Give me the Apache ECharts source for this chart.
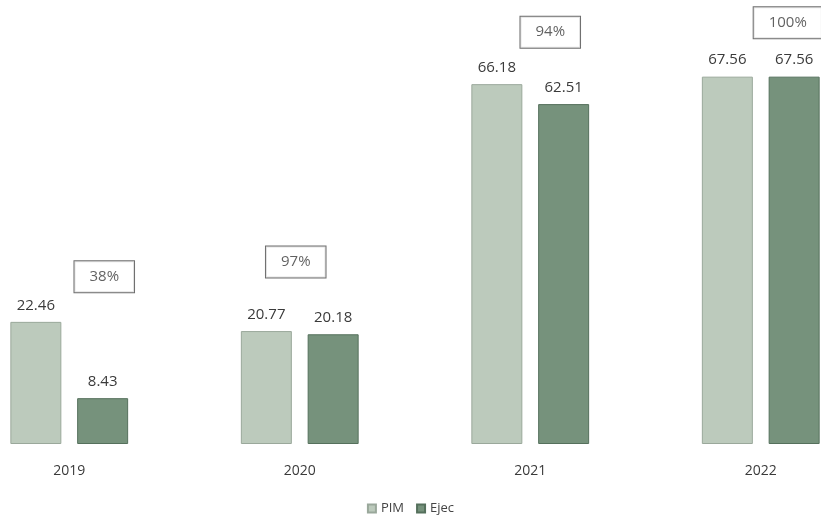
<!DOCTYPE html>
<html>
<head>
<meta charset="utf-8">
<script src="https://cdn.jsdelivr.net/npm/echarts@6/dist/echarts.min.js"></script>
<style>
  html, body { margin: 0; padding: 0; background: #ffffff; }
  #chart { width: 821px; height: 522px; }
</style>
</head>
<body>
<div id="chart"></div>
<script>
// Budget (PIM) vs. execution (Ejec), in millions, per year
const years = ['2019', '2020', '2021', '2022'];
const pim = [22.46, 20.77, 66.18, 67.56];
const ejec = [8.43, 20.18, 62.51, 67.56];
const execPct = ['38%', '97%', '94%', '100%'];

// Where each percentage box sits relative to the top of its taller bar (px)
const boxOffset = [[35, -45], [-4, -69], [20, -52], [27, -54]];

const FONT = 'Open Sans';

const chart = echarts.init(document.getElementById('chart'), null, { renderer: 'canvas' });

const barLabel = {
  show: true,
  position: 'top',
  distance: 9,
  fontFamily: FONT,
  fontSize: 15,
  color: '#3a3a3a'
};

chart.setOption({
  backgroundColor: '#ffffff',
  animation: false,
  // the plot runs past both edges of the canvas, so the outer groups are cut off
  grid: { left: -46, width: 922, top: 9, bottom: 78, outerBoundsMode: 'none', containLabel: false },
  xAxis: {
    type: 'category',
    data: years,
    axisLine: { show: false },
    axisTick: { show: false },
    axisLabel: { fontFamily: FONT, fontSize: 14, color: '#3a3a3a', margin: 20 }
  },
  yAxis: {
    type: 'value',
    min: 0,
    max: 80,
    show: false,
    splitLine: { show: false }
  },
  legend: {
    bottom: 2,
    left: 'center',
    itemWidth: 8,
    itemHeight: 8,
    itemGap: 12,
    icon: 'rect',
    textStyle: { fontFamily: FONT, fontSize: 13, color: '#444' },
    data: ['PIM', 'Ejec']
  },
  series: [
    {
      name: 'PIM',
      type: 'bar',
      data: pim,
      barWidth: 51,
      barGap: '31%',
      itemStyle: { color: '#bccabc', borderColor: '#9aa89b', borderWidth: 1 },
      label: Object.assign({}, barLabel, { formatter: p => p.value.toFixed(2) })
    },
    {
      name: 'Ejec',
      type: 'bar',
      data: ejec,
      barWidth: 51,
      itemStyle: { color: '#76927c', borderColor: '#55705c', borderWidth: 1 },
      label: Object.assign({}, barLabel, { formatter: p => p.value.toFixed(2) })
    },
    {
      name: 'pct',
      type: 'scatter',
      symbolSize: 0,
      silent: true,
      z: 5,
      data: years.map((y, i) => ({
        value: [i, Math.max(pim[i], ejec[i])],
        label: { offset: boxOffset[i] }
      })),
      label: {
        show: true,
        position: 'inside',
        formatter: p => execPct[p.dataIndex],
        fontFamily: FONT,
        fontSize: 15,
        color: '#3a3a3a',
        backgroundColor: '#ffffff',
        borderColor: '#4a4a4a',
        borderWidth: 1,
        padding: [8, 15]
      }
    }
  ]
});
</script>
</body>
</html>
